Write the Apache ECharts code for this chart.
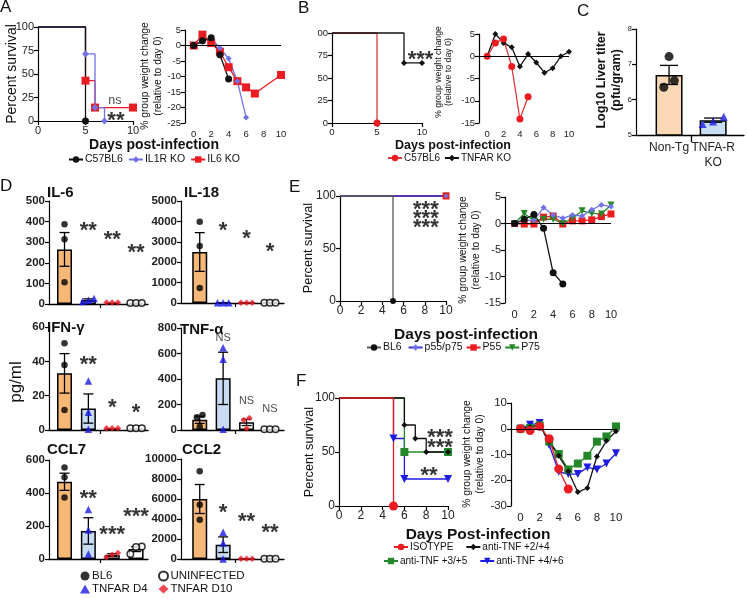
<!DOCTYPE html>
<html>
<head>
<meta charset="utf-8">
<script src="https://cdn.jsdelivr.net/npm/echarts@6/dist/echarts.min.js"></script>
<style>
  html, body { margin: 0; background: #fff; }
  #chart { width: 748px; height: 599px; }
</style>
</head>
<body>
<div id="chart"></div>
<script>
// ---------- panel A : survival + weight ----------
const aSurvC57 = [[0, 100], [5, 0]];
const aSurvIL1R = [[0, 100], [5, 71.4], [6, 14.3], [7, 0]];
const aSurvIL6 = [[0, 100], [5, 42.9], [6, 14.3], [10, 14.3]];
const aWtC57 = [[0, 0], [1, 1.5], [2, 2.5], [3, -3], [4, -10.8]];
const aWtIL1R = [[0, 0], [1, 1.2], [2, 2.3], [3, -0.8], [4, -4.2], [5, -11.5], [6, -23.2]];
const aWtIL6 = [[0, 0], [1, 3.5], [2, 0.8], [3, -2], [4, -7], [5, -11.5], [6, -13.5], [7, -15.5], [10, -9.5]];
const aNotes = [[8.1, 22, 'ns'], [8.2, 5, '**']];

// ---------- panel B ----------
const bSurvC57 = [[0, 100], [5, 0]];
const bSurvTNFAR = [[0, 100], [8, 66.7], [10, 66.7]];
const bWtC57 = [[0, 0], [1, 3.0], [2, 3.9], [3, -2.3], [4, -14.1], [5, -9.1]];
const bWtTNFAR = [[0, 0], [1, 5.0], [2, 3.0], [3, 2.0], [4, -2.3], [5, 0.5], [6, -1.4], [7, -3.7], [8, -2.7], [9, 0], [10, 1.0]];
const bNotes = [[9.83, 75.5, '***']];

// ---------- panel C ----------
const cGroups = ['Non-Tg', 'TNFA-R\nKO'];
const cMean = [6.70, 5.42];
const cSem = [0.27, 0.06];
const cPoints = [[6.35, 7.22, 6.54], [5.31, 5.52, 5.38]];

// ---------- panel D : cytokines (pg/ml) ----------
const dGroups = ['BL6', 'TNFAR D4', 'TNFAR D10', 'UNINFECTED'];
const il6Mean = [265, 20, 7, 5];
const il6Sem = [82, 5, 0, 0];
const il6Points = [[387, 314, 105], [27, 18, 12], [7, 7, 7], [5, 5, 5]];
const il6Marks = [[2, 379, '**'], [3, 335, '**'], [4, 273, '**']];
const il18Mean = [2500, 15, 15, 15];
const il18Sem = [950, 0, 0, 0];
const il18Points = [[3980, 2800, 740], [15, 15, 15], [15, 15, 15], [15, 15, 15]];
const il18Marks = [[2, 3800, '*'], [3, 3370, '*'], [4, 2770, '*']];
const ifnMean = [33, 12.5, 1, 1];
const ifnSem = [11.5, 8.5, 0, 0];
const ifnPoints = [[50.5, 37.9, 11.7], [28.5, 10.3, 0.4], [1, 1, 1], [1, 1, 1]];
const ifnMarks = [[2, 41, '**'], [3, 16, '*'], [4, 13, '*']];
const tnfMean = [80, 405, 60, 6];
const tnfSem = [28, 205, 25, 0];
const tnfPoints = [[118, 100, 26], [645, 555, 5], [95, 78, 12], [6, 6, 6]];
const tnfMarks = [[2, 730, 'NS'], [3, 235, 'NS'], [4, 172, 'NS']];
const ccl7Mean = [468, 170, 24, 60];
const ccl7Sem = [52, 80, 8, 15];
const ccl7Points = [[555, 495, 372], [300, 176, 30], [10, 36, 26], [76, 72, 30]];
const ccl7Marks = [[2, 394, '**'], [3, 176, '***'], [4, 285, '***']];
const ccl2Mean = [6000, 1430, 30, 30];
const ccl2Sem = [1450, 780, 0, 0];
const ccl2Points = [[8770, 5430, 3930], [2670, 1600, 0], [30, 30, 30], [30, 30, 30]];
const ccl2Marks = [[2, 5130, '*'], [3, 4200, '**'], [4, 3100, '**']];

// ---------- panel E ----------
const eSurvBL6 = [[0, 100], [5, 0]];
const eSurvP55P75 = [[0, 100], [10, 100]];
const eSurvP55 = [[0, 100], [10, 100]];
const eSurvP75 = [[0, 100], [10, 100]];
const eWtBL6 = [[0, 0], [1, 0.8], [2, 1.7], [3, -0.9], [4, -9.3], [5, -11.4]];
const eWtP55P75 = [[0, 0], [1, 0.6], [2, 0.6], [3, 3.0], [4, 1.6], [5, 1.0], [6, 1.6], [7, 1.4], [8, 2.6], [9, 3.5], [10, 3.2]];
const eWtP55 = [[0, 0], [1, -0.1], [2, -0.1], [3, 1.2], [4, 1.4], [5, -0.1], [6, 0.5], [7, 0.5], [8, 0.7], [9, 1.3], [10, 1.8]];
const eWtP75 = [[0, 0], [1, 1.9], [2, 0.5], [3, 0.8], [4, 0.8], [5, 0], [6, 1.0], [7, 2.4], [8, 1.9], [9, 1.8], [10, 3.5]];
const eNotes = [[8.1, 91.4, '***'], [8.1, 82.9, '***'], [8.1, 74.3, '***']];

// ---------- panel F ----------
const fSurvIso = [[0, 100], [5, 0]];
const fSurv24 = [[0, 100], [6, 75], [7, 62.5], [8, 50], [10, 50]];
const fSurv35 = [[0, 100], [6, 50], [10, 50]];
const fSurv46 = [[0, 100], [5, 62.5], [6, 25], [10, 25]];
const fWtIso = [[0, 0], [1, -0.7], [2, 0.9], [3, -3.9], [4, -15.6], [5, -23.4]];
const fWt24 = [[0, 0], [1, 0.7], [2, 1.7], [3, -5.0], [4, -10.5], [5, -16.5], [6, -24.6], [7, -23], [8, -10.8], [9, -4.7], [10, -1.0]];
const fWt35 = [[0, 0], [1, 0.3], [2, 1.3], [3, -5.0], [4, -9.8], [5, -15.8], [6, -13.5], [7, -10.5], [8, -5.0], [9, -3.0], [10, 0.9]];
const fWt46 = [[0, 0], [1, 1.6], [2, 2.2], [3, -6.3], [4, -16.7], [5, -17.6], [6, -17.6], [7, -15.0], [8, -15.8], [9, -13.5], [10, -9.5]];
const fNotes = [[9.27, 67.9, '***'], [9.27, 58, '***'], [8.26, 32.4, '**']];

const FONT = 'Liberation Sans, Arial, sans-serif';
const RED = '#ea1c22', BLACK = '#111', LAV = '#7272e8', BLUE = '#1c1ce2', GREEN = '#24882a';
const ORANGE = '#f7b877', PEACH = '#fbd8b6', LBLUE = '#c8dcf4';

const grids = [], xAxes = [], yAxes = [], series = [], graphics = [], legends = [];

function addGrid(box, x, y) {
  grids.push({ left: box[0], top: box[1], width: box[2], height: box[3] });
  const gi = grids.length - 1;
  xAxes.push(Object.assign({ gridIndex: gi }, x));
  yAxes.push(Object.assign({ gridIndex: gi }, y));
  return gi;
}

function axisStyle(fontSize, fmt, bold) {
  // plain numbers, no thousands separators (Prism style)
  const label = { fontSize, color: '#222', margin: 4, fontWeight: bold ? 'bold' : 'normal', fontFamily: FONT,
    formatter: fmt || (v => String(v)) };
  return {
    axisLine: { show: true, onZero: false, lineStyle: { color: '#000', width: 1.2 } },
    axisTick: { show: true, length: 4, lineStyle: { color: '#000', width: 1.2 } },
    axisLabel: label,
    splitLine: { show: false }
  };
}

// weight x axes have no line; labels sit at the bottom and day 0 is a little in from the y axis
function dayAxis(fontSize) {
  return {
    type: 'value', min: -1, max: 10,
    axisLine: { show: false }, axisTick: { show: false }, splitLine: { show: false },
    axisLabel: { customValues: [0, 2, 4, 6, 8, 10], fontSize, color: '#222', margin: 6, fontFamily: FONT }
  };
}

function curve(gi, c, step) {
  return {
    type: 'line', name: c.name, xAxisIndex: gi, yAxisIndex: gi,
    data: c.data.map((p, i) => (step && i === 0) ? { value: p, symbol: 'none' } : p),
    step: step ? 'end' : false,
    symbol: c.symbol, symbolSize: c.size, symbolRotate: c.rotate || 0,
    showAllSymbol: true, clip: false,
    lineStyle: { color: c.line || c.color, width: 1.3 },
    itemStyle: { color: c.color },
    emphasis: { disabled: true }
  };
}

function notes(gi, list, size, bold, dy) {
  series.push({
    type: 'scatter', xAxisIndex: gi, yAxisIndex: gi, silent: true, z: 6, clip: false,
    symbol: 'circle', symbolSize: 1, itemStyle: { color: 'rgba(0,0,0,0)' },
    data: list.map(n => ({ name: n[2], value: [n[0], n[1]] })),
    label: { show: true, position: 'inside', formatter: p => p.name, fontSize: size,
      fontWeight: bold ? 'bold' : 'normal', color: bold ? '#000' : '#222', offset: [0, dy], fontFamily: FONT }
  });
}

function zeroLine() {
  return { silent: true, symbol: 'none', label: { show: false }, animation: false,
    lineStyle: { color: '#000', width: 1.2, type: 'solid' }, data: [{ yAxis: 0 }] };
}

function survival(box, xInt, yInt, fontSize, curves, yFmt) {
  const gi = addGrid(box,
    Object.assign({ type: 'value', min: 0, max: 10, interval: xInt }, axisStyle(fontSize)),
    Object.assign({ type: 'value', min: 0, max: 100, interval: yInt }, axisStyle(fontSize, yFmt)));
  curves.forEach(c => series.push(curve(gi, c, true)));
  return gi;
}

function weight(box, yMin, yMax, yInt, fontSize, curves) {
  const gi = addGrid(box, dayAxis(fontSize),
    Object.assign({ type: 'value', min: yMin, max: yMax, interval: yInt }, axisStyle(fontSize)));
  curves.forEach((c, i) => {
    const s = curve(gi, c, false);
    if (i === 0) s.markLine = zeroLine();
    series.push(s);
  });
  return gi;
}

// points that sit close together are spread sideways, like a column scatter
function spread(vals, close, step) {
  const order = vals.map((v, i) => [v, i]).sort((a, b) => a[0] - b[0]);
  const off = vals.map(() => 0);
  let cluster = [order[0]];
  const flush = () => {
    cluster.forEach((c, k) => { off[c[1]] = (k - (cluster.length - 1) / 2) * step; });
  };
  for (let k = 1; k < order.length; k++) {
    if (order[k][0] - cluster[cluster.length - 1][0] < close) cluster.push(order[k]);
    else { flush(); cluster = [order[k]]; }
  }
  flush();
  return off;
}

function errorSeries(gi, xs, mean, sem, cap) {
  series.push({
    type: 'custom', xAxisIndex: gi, yAxisIndex: gi, z: 4, silent: true,
    data: mean.map((m, i) => [xs[i], m - sem[i], m + sem[i]]).filter((d, i) => sem[i] > 0),
    encode: { x: 0, y: [1, 2] },
    renderItem: (params, api) => {
      const x = api.value(0);
      const lo = api.coord([x, api.value(1)]), hi = api.coord([x, api.value(2)]);
      const st = { stroke: '#000', lineWidth: 1.3 };
      return { type: 'group', children: [
        { type: 'line', shape: { x1: lo[0], y1: lo[1], x2: hi[0], y2: hi[1] }, style: st },
        { type: 'line', shape: { x1: hi[0] - cap, y1: hi[1], x2: hi[0] + cap, y2: hi[1] }, style: st },
        { type: 'line', shape: { x1: lo[0] - cap, y1: lo[1], x2: lo[0] + cap, y2: lo[1] }, style: st }
      ] };
    }
  });
}

function text(x, y, str, font, opts) {
  graphics.push(Object.assign({ type: 'text', x, y, silent: true,
    style: Object.assign({ text: str, font: font + ' ' + FONT, fill: '#111', textAlign: 'left', textVerticalAlign: 'top' }, opts || {}) }));
}
function vtext(x, y, str, font, lineHeight) {
  graphics.push({ type: 'text', x, y, rotation: Math.PI / 2, silent: true,
    style: { text: str, font: font + ' ' + FONT, fill: '#111', textAlign: 'center', textVerticalAlign: 'middle', lineHeight } });
}

// ===== A =====
let gi = survival([38, 27, 95, 94], 5, 25, 11, [
  { name: 'IL6 KO', data: aSurvIL6, color: RED, symbol: 'rect', size: 8 },
  { name: 'IL1R KO', data: aSurvIL1R, color: LAV, symbol: 'diamond', size: 7 },
  { name: 'C57BL6', data: aSurvC57, color: BLACK, symbol: 'circle', size: 7 }
]);
notes(gi, aNotes.slice(0, 1), 12.5, false, 0);
notes(gi, aNotes.slice(1), 22, true, 5);
weight([185, 30, 96, 93], -25, 5, 5, 9.5, [
  { name: 'IL6 KO', data: aWtIL6, color: RED, symbol: 'rect', size: 8 },
  { name: 'IL1R KO', data: aWtIL1R, color: LAV, symbol: 'diamond', size: 6 },
  { name: 'C57BL6', data: aWtC57, color: BLACK, symbol: 'circle', size: 7 }
]);
text(0, -1, 'A', '17px');
vtext(12, 74, 'Percent survival', '14px');
vtext(152, 76, '% group weight change\n(relative to day 0)', '10.3px', 13);
text(154, 145, 'Days post-infection', 'bold 14px', { textAlign: 'center', textVerticalAlign: 'middle' });
legends.push({ data: ['C57BL6', 'IL1R KO', 'IL6 KO'], left: 68, top: 154 });

// ===== B =====
gi = survival([332, 33, 90, 90], 5, 25, 9.5, [
  { name: 'C57BL6 ', data: bSurvC57, color: RED, line: '#d83a3a', symbol: 'circle', size: 7 },
  { name: 'TNFAR KO', data: bSurvTNFAR, color: BLACK, symbol: 'diamond', size: 6 }
], v => (v === 100 ? '00' : String(v)));
notes(gi, bNotes, 22, true, 5);
weight([479, 34, 90, 89], -15, 5, 5, 9.5, [
  { name: 'TNFAR KO', data: bWtTNFAR, color: BLACK, symbol: 'diamond', size: 6 },
  { name: 'C57BL6 ', data: bWtC57, color: RED, line: '#d83a3a', symbol: 'circle', size: 7 }
]);
text(298, 0, 'B', '17px');
vtext(444, 72, '% group weight change\n(relative to day 0)', '8.8px', 10);
text(453, 146, 'Days post-infection', 'bold 12.5px', { textAlign: 'center', textVerticalAlign: 'middle' });
legends.push({ data: ['C57BL6 ', 'TNFAR KO'], left: 387, top: 153, itemGap: 1, textStyle: { fontSize: 10 } });

// ===== C =====
gi = addGrid([636, 29, 108, 106],
  { type: 'value', min: -0.75, max: 1.7,
    axisLine: { show: true, onZero: false, lineStyle: { color: '#000', width: 1.3 } },
    axisTick: { show: true, length: 7, customValues: [0.5], lineStyle: { color: '#000', width: 1.3 } },
    axisLabel: { customValues: [0, 1], formatter: v => cGroups[Math.round(v)], fontSize: 12, color: '#222', lineHeight: 15, margin: 5, fontFamily: FONT },
    splitLine: { show: false } },
  Object.assign({ type: 'value', min: 5, max: 8, interval: 1 }, axisStyle(7.5)));
series.push({
  type: 'bar', xAxisIndex: gi, yAxisIndex: gi, barWidth: 27, z: 2, silent: true,
  data: cMean.map((m, i) => ({ value: [i, m], itemStyle: { color: i === 0 ? PEACH : LBLUE, borderColor: '#000', borderWidth: 1.5 } }))
});
errorSeries(gi, [0, 1], cMean, cSem, 9);
cPoints.forEach((pts, g) => {
  const off = spread(pts, 0.21, 0.24);
  series.push({
    type: 'scatter', xAxisIndex: gi, yAxisIndex: gi, z: 5, silent: true,
    symbol: g === 0 ? 'circle' : 'triangle', symbolSize: g === 0 ? 9 : 8,
    itemStyle: { color: g === 0 ? '#000' : '#1c1ce2' },
    data: pts.map((v, k) => [g + off[k], v])
  });
});
text(577, 3, 'C', '17px');
vtext(609, 80, 'Log10 Liver titer\n(pfu/gram)', 'bold 12.5px', 15);

// ===== D =====
const dStyle = [
  { symbol: 'circle', size: 6.5, itemStyle: { color: '#000' }, fill: ORANGE },
  { symbol: 'triangle', size: 7.5, itemStyle: { color: '#1a1ae6' }, fill: LBLUE },
  { symbol: 'diamond', size: 6.5, itemStyle: { color: '#ee1c24' }, fill: '#fff' },
  { symbol: 'circle', size: 6.5, itemStyle: { color: '#fff', borderColor: '#000', borderWidth: 1.5 }, fill: '#fff' }
];
function cytokine(box, xMin, xMax, title, yMax, yInt, mean, sem, pts, marks, titleX, titleY) {
  const g = addGrid(box,
    { type: 'value', min: xMin, max: xMax,
      axisLine: { show: true, onZero: false, lineStyle: { color: '#000', width: 1.3 } },
      axisTick: { show: true, length: 4, customValues: [2.5], lineStyle: { color: '#000', width: 1.2 } },
      axisLabel: { show: false }, splitLine: { show: false } },
    Object.assign({ type: 'value', min: 0, max: yMax, interval: yInt }, axisStyle(11.5, null, true)));
  const xs = mean.map((m, i) => i + 1);
  series.push({
    type: 'bar', xAxisIndex: g, yAxisIndex: g, barWidth: 15, z: 2, silent: true,
    data: mean.map((m, i) => ({ value: [xs[i], m], itemStyle: { color: dStyle[i].fill, borderColor: '#000', borderWidth: 1.5 } }))
  });
  errorSeries(g, xs, mean, sem, 5);
  pts.forEach((p, k) => {
    const off = spread(p, yMax * 0.07, 0.24);
    series.push({
      type: 'scatter', name: dGroups[k], xAxisIndex: g, yAxisIndex: g, z: 5, silent: true, clip: false,
      symbol: dStyle[k].symbol, symbolSize: dStyle[k].size, itemStyle: dStyle[k].itemStyle,
      data: p.map((v, j) => [xs[k] + off[j], v])
    });
  });
  const stars = marks.filter(m => m[2] !== 'NS');
  const ns = marks.filter(m => m[2] === 'NS');
  if (stars.length) notes(g, stars, 22, true, 5);
  if (ns.length) notes(g, ns, 11, false, 1);
  text(titleX, titleY, title, 'bold 15px', { textVerticalAlign: 'middle' });
}
cytokine([49, 201, 99, 103], 0.35, 4.5, 'IL-6', 500, 100, il6Mean, il6Sem, il6Points, il6Marks, 47, 193);
cytokine([181, 201, 103, 102], 0.2, 4.6, 'IL-18', 5000, 1000, il18Mean, il18Sem, il18Points, il18Marks, 184, 193);
cytokine([49, 327, 99, 103], 0.35, 4.5, 'IFN-γ', 60, 20, ifnMean, ifnSem, ifnPoints, ifnMarks, 47, 328);
cytokine([181, 328, 103, 102], 0.2, 4.6, 'TNF-α', 800, 200, tnfMean, tnfSem, tnfPoints, tnfMarks, 180, 330);
cytokine([49, 460, 99, 99], 0.35, 4.5, 'CCL7', 600, 200, ccl7Mean, ccl7Sem, ccl7Points, ccl7Marks, 47, 450);
cytokine([181, 459, 103, 100], 0.2, 4.6, 'CCL2', 10000, 2000, ccl2Mean, ccl2Sem, ccl2Points, ccl2Marks, 182, 450);
text(0, 178, 'D', '17px');
vtext(16, 382, 'pg/ml', '17px');
legends.push({ data: ['BL6', 'TNFAR D4'], orient: 'vertical', left: 80, top: 570, itemGap: 1, itemWidth: 10, itemHeight: 9, textStyle: { fontSize: 11.5 } });
legends.push({ data: ['UNINFECTED', 'TNFAR D10'], orient: 'vertical', left: 158, top: 570, itemGap: 1, itemWidth: 10, itemHeight: 9, textStyle: { fontSize: 11.5 } });

// ===== E =====
gi = survival([340, 196, 106, 105], 2, 50, 12, [
  { name: 'P75', data: eSurvP75, color: GREEN, symbol: 'triangle', rotate: 180, size: 7 },
  { name: 'P55', data: eSurvP55, color: RED, symbol: 'rect', size: 7 },
  { name: 'p55/p75', data: eSurvP55P75, color: LAV, line: '#3434d8', symbol: 'diamond', size: 5 },
  { name: 'BL6 ', data: eSurvBL6, color: BLACK, line: '#555', symbol: 'circle', size: 6 }
]);
notes(gi, eNotes, 22, true, 5);
weight([505, 197, 106, 106], -15, 5, 5, 11, [
  { name: 'P55', data: eWtP55, color: RED, symbol: 'rect', size: 7 },
  { name: 'P75', data: eWtP75, color: GREEN, symbol: 'triangle', rotate: 180, size: 7 },
  { name: 'p55/p75', data: eWtP55P75, color: LAV, symbol: 'diamond', size: 6 },
  { name: 'BL6 ', data: eWtBL6, color: BLACK, symbol: 'circle', size: 7 }
]);
text(289, 179, 'E', '17px');
vtext(308, 248, 'Percent survival', '12.7px');
vtext(470, 250, '% group weight change\n(relative to day 0)', '10.3px', 13);
text(466, 335, 'Days post-infection', 'bold 15.5px', { textAlign: 'center', textVerticalAlign: 'middle' });
legends.push({ data: ['BL6 ', 'p55/p75', 'P55', 'P75'], left: 366, top: 342, itemGap: 3, textStyle: { fontSize: 10.5 } });

// ===== F =====
gi = survival([339, 398, 109, 108], 2, 50, 12, [
  { name: 'anti-TNF +4/+6', data: fSurv46, color: BLUE, symbol: 'triangle', rotate: 180, size: 8 },
  { name: 'anti-TNF +3/+5', data: fSurv35, color: GREEN, symbol: 'rect', size: 8 },
  { name: 'anti-TNF +2/+4', data: fSurv24, color: BLACK, symbol: 'diamond', size: 6 },
  { name: 'ISOTYPE', data: fSurvIso, color: RED, symbol: 'circle', size: 9 }
]);
notes(gi, fNotes, 22, true, 5);
weight([511, 403, 105, 103], -30, 10, 10, 11.5, [
  { name: 'anti-TNF +4/+6', data: fWt46, color: BLUE, symbol: 'triangle', rotate: 180, size: 8 },
  { name: 'anti-TNF +3/+5', data: fWt35, color: GREEN, symbol: 'rect', size: 8 },
  { name: 'anti-TNF +2/+4', data: fWt24, color: BLACK, symbol: 'diamond', size: 6 },
  { name: 'ISOTYPE', data: fWtIso, color: RED, symbol: 'circle', size: 9 }
]);
text(296, 373, 'F', '17px');
vtext(309, 452, 'Percent survival', '12.7px');
vtext(474, 454, '% group weight change\n(relative to day 0)', '10.3px', 13);
text(478, 535, 'Days Post-infection', 'bold 15.5px', { textAlign: 'center', textVerticalAlign: 'middle' });
legends.push({ data: ['ISOTYPE', 'anti-TNF +2/+4'], left: 393, top: 542, itemGap: 12, textStyle: { fontSize: 10 } });
legends.push({ data: ['anti-TNF +3/+5', 'anti-TNF +4/+6'], left: 383, top: 556, itemGap: 12, textStyle: { fontSize: 10 } });

const legendDefaults = { selectedMode: false, itemWidth: 14, itemHeight: 8, itemGap: 5, padding: 0,
  textStyle: { fontSize: 10.5, color: '#111', fontFamily: FONT, padding: [0, 0, 0, -3] } };
const legendList = legends.map(l => Object.assign({}, legendDefaults, l,
  { textStyle: Object.assign({}, legendDefaults.textStyle, l.textStyle || {}) }));

const chart = echarts.init(document.getElementById('chart'));
chart.setOption({
  animation: false,
  backgroundColor: '#fff',
  textStyle: { fontFamily: FONT },
  grid: grids,
  xAxis: xAxes,
  yAxis: yAxes,
  legend: legendList,
  graphic: graphics,
  series: series
});
</script>
</body>
</html>
